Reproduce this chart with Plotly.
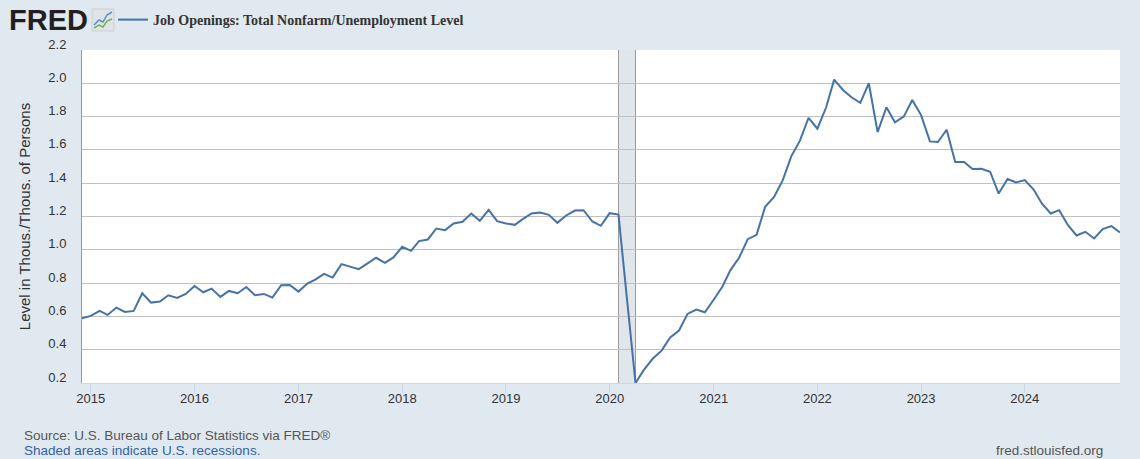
import pandas as pd
import plotly.graph_objects as go

# ---------------- data ----------------
start_month = "2014-12-01"
ratio_values = [
    0.589,
    # 2015
    0.603, 0.633, 0.609, 0.653, 0.627, 0.633, 0.739, 0.683, 0.689, 0.727, 0.711, 0.735,
    # 2016
    0.783, 0.745, 0.767, 0.717, 0.753, 0.739, 0.777, 0.727, 0.735, 0.713, 0.787, 0.789,
    # 2017
    0.749, 0.797, 0.821, 0.855, 0.833, 0.914, 0.900, 0.884, 0.918, 0.952, 0.922, 0.954,
    # 2018
    1.018, 0.994, 1.052, 1.062, 1.128, 1.118, 1.158, 1.168, 1.218, 1.174, 1.240, 1.172,
    # 2019
    1.158, 1.150, 1.184, 1.218, 1.224, 1.210, 1.162, 1.206, 1.236, 1.238, 1.170, 1.144,
    # 2020
    1.220, 1.212, 0.720, 0.200, 0.280, 0.347, 0.393, 0.473, 0.515, 0.615, 0.641, 0.625,
    # 2021
    0.700, 0.780, 0.878, 0.954, 1.064, 1.090, 1.258, 1.316, 1.417, 1.561, 1.657, 1.793,
    # 2022
    1.727, 1.856, 2.022, 1.960, 1.916, 1.883, 2.000, 1.707, 1.856, 1.765, 1.800, 1.900,
    # 2023
    1.809, 1.651, 1.647, 1.721, 1.527, 1.527, 1.485, 1.487, 1.469, 1.338, 1.425, 1.404,
    # 2024
    1.419, 1.362, 1.278, 1.218, 1.238, 1.148, 1.086, 1.108, 1.068, 1.124, 1.142, 1.104,
]
dates = pd.date_range(start_month, periods=len(ratio_values), freq="MS")

series_name = "Job Openings: Total Nonfarm/Unemployment Level"
y_title = "Level in Thous./Thous. of Persons"
y_ticks = [0.2, 0.4, 0.6, 0.8, 1.0, 1.2, 1.4, 1.6, 1.8, 2.0, 2.2]
x_tick_years = [str(y) for y in range(2015, 2025)]
recession_start = "2020-02-01"
recession_end = "2020-04-01"

# ---------------- layout helpers ----------------
W, H = 1140, 459
ML, MR, MT, MB = 82, 20, 50, 76
PW, PH = W - ML - MR, H - MT - MB


def px_x(px):
    return (px - ML) / PW


def px_y(py):
    return (H - MB - py) / PH


BG = "#e1e9f0"
LINE = "#4572a7"

fig = go.Figure()
fig.add_trace(go.Scatter(
    x=dates, y=ratio_values, mode="lines", name=series_name,
    line=dict(color=LINE, width=2), showlegend=True,
))

shapes = [
    dict(type="rect", xref="x", yref="paper", x0=recession_start, x1=recession_end,
         y0=0, y1=1, fillcolor="#e1e6eb", line=dict(width=0), layer="below"),
    dict(type="line", xref="x", yref="paper", x0=recession_start, x1=recession_start,
         y0=0, y1=1, line=dict(color="#999999", width=1), layer="below"),
    dict(type="line", xref="x", yref="paper", x0=recession_end, x1=recession_end,
         y0=0, y1=1, line=dict(color="#999999", width=1), layer="below"),
    # FRED icon
    dict(type="rect", xref="paper", yref="paper", x0=px_x(92), x1=px_x(114),
         y0=px_y(31), y1=px_y(9), fillcolor="#dfe4e8", line=dict(color="#c9d0d6", width=1)),
    dict(type="path", xref="paper", yref="paper",
         path="M {} {} L {} {} L {} {} L {} {} L {} {}".format(
             px_x(94), px_y(25), px_x(99), px_y(20), px_x(103), px_y(22),
             px_x(107), px_y(15), px_x(112), px_y(12)),
         line=dict(color="#5b8fc9", width=1.5)),
    dict(type="path", xref="paper", yref="paper",
         path="M {} {} L {} {} L {} {} L {} {} L {} {}".format(
             px_x(94), px_y(28), px_x(99), px_y(25), px_x(103), px_y(27),
             px_x(107), px_y(21), px_x(112), px_y(19)),
         line=dict(color="#79b04a", width=1.5)),
]

annotations = [
    dict(text="<b>FRED</b>", xref="paper", yref="paper", x=px_x(7), y=px_y(20),
         xanchor="left", yanchor="middle", showarrow=False,
         font=dict(family="Liberation Sans", size=29, color="#231f20")),
    dict(text="Source: U.S. Bureau of Labor Statistics via FRED®", xref="paper", yref="paper",
         x=px_x(22), y=px_y(435), xanchor="left", yanchor="middle", showarrow=False,
         font=dict(family="Liberation Sans", size=13.5, color="#555555")),
    dict(text="Shaded areas indicate U.S. recessions.", xref="paper", yref="paper",
         x=px_x(22), y=px_y(450), xanchor="left", yanchor="middle", showarrow=False,
         font=dict(family="Liberation Sans", size=13.5, color="#2f63a8")),
    dict(text="fred.stlouisfed.org", xref="paper", yref="paper",
         x=px_x(1105), y=px_y(450), xanchor="right", yanchor="middle", showarrow=False,
         font=dict(family="Liberation Sans", size=13.5, color="#555555")),
]

fig.update_layout(
    width=W, height=H,
    margin=dict(l=ML, r=MR, t=MT, b=MB, pad=0, autoexpand=False),
    paper_bgcolor=BG, plot_bgcolor="#ffffff",
    font=dict(family="Liberation Sans", color="#333333"),
    showlegend=True,
    legend=dict(
        xref="container", yref="container",
        x=113 / W, y=1 - 20 / H, xanchor="left", yanchor="middle",
        orientation="h", bgcolor="rgba(0,0,0,0)", itemwidth=30,
        font=dict(family="Liberation Serif", size=14, color="#333333", weight="bold"),
    ),
    shapes=shapes,
    annotations=annotations,
    xaxis=dict(
        type="date",
        range=[dates[0], dates[-1]],
        tickvals=[f"{y}-01-01" for y in x_tick_years],
        ticktext=x_tick_years,
        showgrid=False, zeroline=False,
        showline=True, linecolor="#ccd6eb", linewidth=1,
        ticks="outside", ticklen=9, tickcolor="#ccd6eb",
        ticklabelstandoff=-6,
        tickfont=dict(size=13, color="#333333"),
        automargin=False,
    ),
    yaxis=dict(
        range=[0.2, 2.2],
        tickvals=y_ticks,
        ticktext=[f"{v:.1f}" for v in y_ticks],
        showgrid=True, gridcolor="#c0c0c0", gridwidth=1,
        zeroline=False,
        showline=True, linecolor="#999999", linewidth=1,
        ticks="", ticklabelstandoff=12, ticklabelshift=-6,
        tickfont=dict(size=13, color="#333333"),
        title=dict(text=y_title, font=dict(size=15, color="#333333"), standoff=14),
        automargin=False,
    ),
)

fig.write_html(
    "out.html",
    config={"displayModeBar": False},
    post_script="document.body.style.margin='0';document.body.style.padding='0';"
                "document.body.style.overflow='hidden';"
                "document.body.style.background='" + BG + "';",
)
